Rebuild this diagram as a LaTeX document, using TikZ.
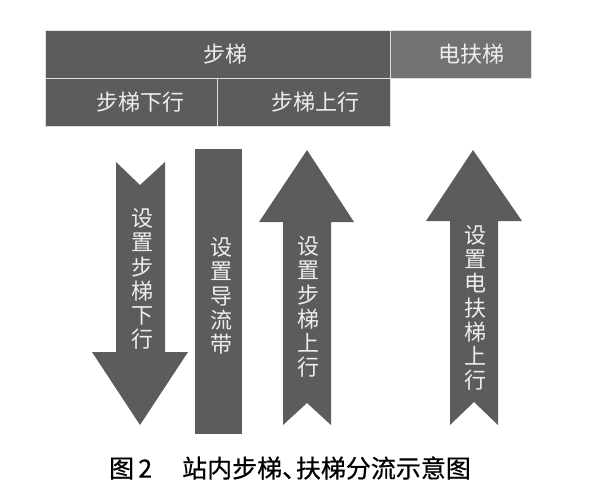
\documentclass[tikz,border=0pt]{standalone}
\usepackage{fontspec}
\newfontfamily\cjk{Noto Sans CJK SC}
\newfontfamily\cjkcap[FakeBold=0.6]{Noto Sans CJK SC}
\usepackage{tikz}
\definecolor{stairgray}{RGB}{92,92,92}
\definecolor{liftgray}{RGB}{114,114,114}
\definecolor{labelwhite}{RGB}{238,238,238}

\begin{document}
\begin{tikzpicture}[x=1pt,y=-1pt,
		box/.style={fill=stairgray, draw=white!80!stairgray, line width=0.6pt, inner sep=0pt},
		boxtext/.style={text=labelwhite, font=\cjk\fontsize{22}{22}\selectfont, inner sep=0pt},
		flow/.style={fill=stairgray, draw=none},
		vtext/.style={text=labelwhite, font=\cjk\fontsize{22}{24.2}\selectfont, align=center, inner sep=0pt}]
		\useasboundingbox (0,0) rectangle (600,503);
		% header boxes
		\draw [box] (45,30) rectangle (390,78);
		\draw [box, fill=liftgray] (390,30) rectangle (531,78);
		\draw [box] (45,78) rectangle (217,126);
		\draw [box] (217,78) rectangle (390,126);
		\node [boxtext] (stairs) at (225,54) {步梯};
		\node [boxtext] (lift) at (471,54) {电扶梯};
		\node [boxtext] (stairsdown) at (140,102) {步梯下行};
		\node [boxtext] (stairsup) at (315,102) {步梯上行};
		% arrows and band
		\fill [flow] (116,162) -- (140,185) -- (165,162) -- (165,352) -- (188,352)
			-- (140,425) -- (92,352) -- (116,352) -- cycle;
		\fill [flow] (195,149) rectangle (242,434);
		\fill [flow] (307,150) -- (354,222) -- (331,222) -- (331,425) -- (307,403)
			-- (283,425) -- (283,222) -- (259,222) -- cycle;
		\fill [flow] (473,150) -- (522,221) -- (498,221) -- (498,425) -- (474,402)
			-- (450,425) -- (450,221) -- (426,221) -- cycle;
		\node [vtext] (down) at (142,279) {设\\置\\步\\梯\\下\\行};
		\node [vtext] (band) at (221,296) {设\\置\\导\\流\\带};
		\node [vtext] (up) at (308,307) {设\\置\\步\\梯\\上\\行};
		\node [vtext] (liftup) at (475,308) {设\\置\\电\\扶\\梯\\上\\行};
		% caption
		\node [font=\cjkcap\fontsize{25}{25}\selectfont, inner sep=0pt] (caption) at (290,468)
			{图\,2\hspace{1.2em}站内步梯、\kern-0.45em 扶梯分流示意图};
	\end{tikzpicture}
\end{document}
